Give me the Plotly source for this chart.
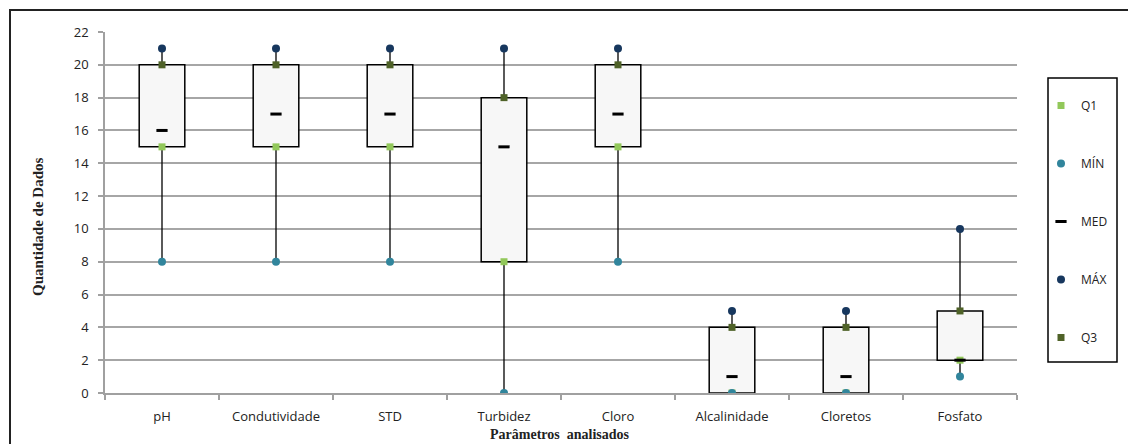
import plotly.graph_objects as go

categories = ["pH", "Condutividade", "STD", "Turbidez", "Cloro", "Alcalinidade", "Cloretos", "Fosfato"]
q1_vals = [15, 15, 15, 8, 15, 0, 0, 2]
min_vals = [8, 8, 8, 0, 8, 0, 0, 1]
med_vals = [16, 17, 17, 15, 17, 1, 1, 2]
max_vals = [21, 21, 21, 21, 21, 5, 5, 10]
q3_vals = [20, 20, 20, 18, 20, 4, 4, 5]
y_ticks = list(range(0, 23, 2))

W, H = 1128, 444
L, R, T, B = 105, 1017, 32, 393
pw, ph = R - L, B - T

def px_x(p):
    return (p - L) / pw

def px_y(p):
    return 1 - (p - T) / ph

fig = go.Figure()

wx, wy = [], []
for c, mn, a, b, mx in zip(categories, min_vals, q1_vals, q3_vals, max_vals):
    wx += [c, c, None, c, c, None]
    wy += [mn, a, None, b, mx, None]

fig.add_trace(go.Bar(x=categories, base=q1_vals, y=[b - a for a, b in zip(q1_vals, q3_vals)],
                     width=0.4, marker=dict(color="#F7F7F7", line=dict(color="black", width=1.5)),
                     showlegend=False, hoverinfo="skip"))
fig.add_trace(go.Scatter(x=wx, y=wy, mode="lines", line=dict(color="black", width=1.3),
                         showlegend=False, hoverinfo="skip"))

fig.add_trace(go.Scatter(x=categories, y=q1_vals, mode="markers", name="Q1", legendgroup="a",
                         marker=dict(symbol="square", size=7, color="#92C85A")))
fig.add_trace(go.Scatter(x=categories, y=min_vals, mode="markers", name="MÍN", legendgroup="b",
                         marker=dict(symbol="circle", size=8, color="#31859C")))
fig.add_trace(go.Scatter(x=categories, y=med_vals, mode="markers", name="MED", legendgroup="c",
                         marker=dict(symbol="line-ew", size=8, color="black",
                                     line=dict(color="black", width=3))))
fig.add_trace(go.Scatter(x=categories, y=max_vals, mode="markers", name="MÁX", legendgroup="d",
                         marker=dict(symbol="circle", size=8, color="#17375E")))
fig.add_trace(go.Scatter(x=categories, y=q3_vals, mode="markers", name="Q3", legendgroup="e",
                         marker=dict(symbol="square", size=7, color="#4F6228")))

fig.update_layout(
    width=W, height=H,
    margin=dict(l=L, r=W - R, t=T, b=H - B, pad=0),
    paper_bgcolor="white", plot_bgcolor="white",
    font=dict(family="Open Sans, Liberation Sans, sans-serif", size=12, color="#222"),
    showlegend=True,
    legend=dict(x=px_x(1041), y=px_y(91), xanchor="left", yanchor="top",
                borderwidth=0, bgcolor="rgba(0,0,0,0)",
                traceorder="grouped", tracegroupgap=39,
                font=dict(size=12, color="#222"), itemwidth=30),
    xaxis=dict(type="category", range=[-0.5, 7.5], showgrid=False,
               showline=True, linecolor="#A0A0A0", linewidth=1.5,
               ticks="outside", tickson="boundaries", ticklen=5, tickcolor="#A0A0A0",
               tickwidth=1.5, ticklabelstandoff=11,
               tickfont=dict(size=13, color="#222")),
    yaxis=dict(range=[0, 22], tickvals=y_ticks, showgrid=True, gridcolor="#A6A6A6", gridwidth=1.5,
               showline=True, linecolor="#A0A0A0", linewidth=1.5, zeroline=False,
               ticks="outside", ticklen=5, tickcolor="#A0A0A0", tickwidth=1.5,
               ticklabelstandoff=7, tickfont=dict(size=13, color="#222")),
    shapes=[
        dict(type="rect", xref="paper", yref="paper",
             x0=px_x(10), x1=px_x(1135), y0=px_y(450), y1=px_y(10),
             line=dict(color="#222", width=2), fillcolor="rgba(0,0,0,0)", layer="below"),
        dict(type="rect", xref="paper", yref="paper",
             x0=px_x(1048), x1=px_x(1117), y0=px_y(362), y1=px_y(78),
             line=dict(color="black", width=1.5), fillcolor="white", layer="below"),
    ],
    annotations=[
        dict(text="<b>Quantidade de Dados</b>", xref="paper", yref="paper",
             x=px_x(38), y=px_y(227), textangle=-90, showarrow=False,
             font=dict(family="Liberation Serif, serif", size=15, color="#222"),
             xanchor="center", yanchor="middle"),
        dict(text="<b>Parâmetros  analisados</b>", xref="paper", yref="paper",
             x=px_x(560), y=px_y(434), showarrow=False,
             font=dict(family="Liberation Serif, serif", size=14, color="#222"),
             xanchor="center", yanchor="middle"),
    ],
)

fig.write_html("out.html")
